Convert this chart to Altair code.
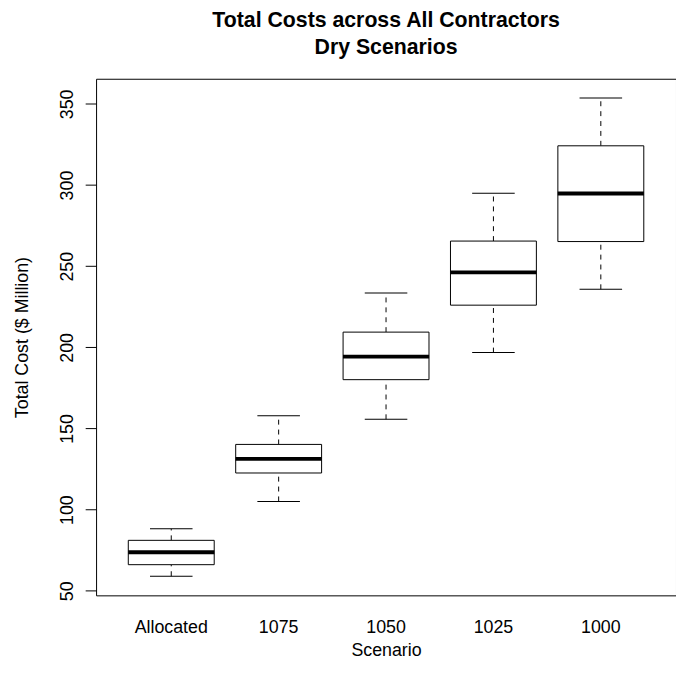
import altair as alt
import pandas as pd

scenarios = ["Allocated", "1075", "1050", "1025", "1000"]
whisker_low = [59.0, 105.1, 155.7, 196.8, 235.8]
q1 = [66.1, 122.6, 180.1, 226.0, 265.2]
median = [73.8, 131.3, 194.3, 246.2, 294.8]
q3 = [81.1, 140.2, 209.4, 265.5, 324.2]
whisker_high = [88.2, 157.9, 233.5, 294.9, 353.7]
y_ticks = [50, 100, 150, 200, 250, 300, 350]

df = pd.DataFrame({
    "scenario": scenarios,
    "lo": whisker_low,
    "q1": q1,
    "med": median,
    "q3": q3,
    "hi": whisker_high,
})

FONT = "Liberation Sans"

x = alt.X("scenario:N", sort=scenarios,
          scale=alt.Scale(paddingInner=0.2, paddingOuter=0.3),
          axis=alt.Axis(title="Scenario", ticks=False, domain=False, labelAngle=0,
                        labelFontSize=18, labelFont=FONT, labelColor="black",
                        labelPadding=24, titleFontSize=18, titleFont=FONT,
                        titleFontWeight="normal", titleColor="black", titlePadding=5))

yscale = alt.Scale(domain=[47.2, 365.5], nice=False, zero=False)
yaxis = alt.Axis(title="Total Cost ($ Million)", values=y_ticks, grid=False, domain=False,
                 tickSize=11, tickColor="black", labelAngle=-90, labelAlign="center",
                 labelBaseline="alphabetic", labelPadding=13, labelFontSize=18, labelFont=FONT,
                 labelColor="black", titleFontSize=18, titleFont=FONT,
                 titleFontWeight="normal", titleColor="black", titlePadding=27)

base = alt.Chart(df)

whisk_up = base.mark_rule(color="black", strokeDash=[5, 5], strokeWidth=1).encode(
    x=x, y=alt.Y("q3:Q", scale=yscale, axis=yaxis), y2="hi:Q")
whisk_dn = base.mark_rule(color="black", strokeDash=[5, 5], strokeWidth=1).encode(
    x=x, y=alt.Y("lo:Q", scale=yscale), y2="q1:Q")
cap_hi = base.mark_tick(color="black", opacity=1, orient="horizontal", size=43, thickness=1).encode(
    x=x, y=alt.Y("hi:Q", scale=yscale))
cap_lo = base.mark_tick(color="black", opacity=1, orient="horizontal", size=43, thickness=1).encode(
    x=x, y=alt.Y("lo:Q", scale=yscale))
box = base.mark_bar(fill="white", stroke="black", strokeWidth=1).encode(
    x=x, y=alt.Y("q1:Q", scale=yscale), y2="q3:Q")
med = base.mark_tick(color="black", opacity=1, orient="horizontal", size=87, thickness=4).encode(
    x=x, y=alt.Y("med:Q", scale=yscale))

chart = alt.layer(whisk_up, whisk_dn, cap_hi, cap_lo, box, med).properties(
    width=586, height=522,
    title=alt.TitleParams(text=["Total Costs across All Contractors", "Dry Scenarios"],
                          font=FONT, fontSize=21.5, fontWeight="bold", color="black",
                          anchor="middle", frame="group", lineHeight=27, offset=21),
    autosize=alt.AutoSizeParams(type="none"),
    padding={"left": 89, "top": 68, "right": 0, "bottom": 80},
).configure_view(stroke="black", strokeWidth=1)

chart.save("out.html", embed_options={"renderer": "svg", "actions": False})
